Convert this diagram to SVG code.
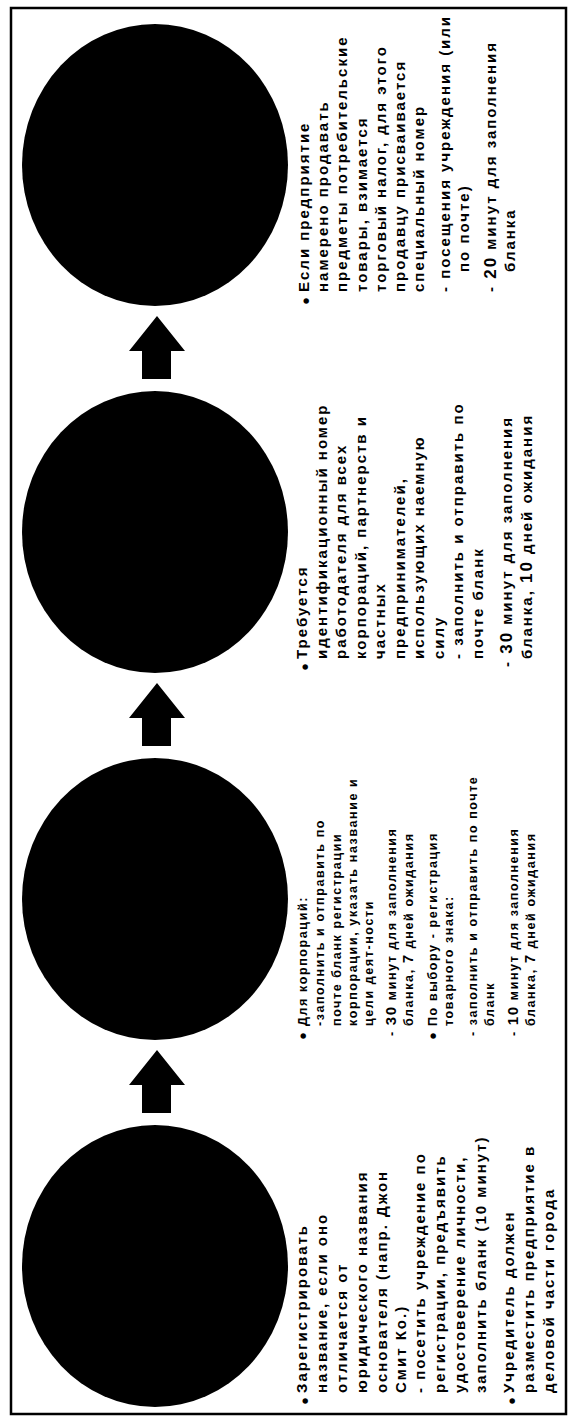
<svg xmlns="http://www.w3.org/2000/svg" width="574" height="1422" viewBox="0 0 574 1422">
<style>
.t{font-family:"Liberation Sans",Arial,sans-serif;font-weight:bold;font-size:15px;letter-spacing:2px;fill:#000}
.s{font-size:12.5px;letter-spacing:1.6px}
.n{font-size:17px}
.ns{font-size:15px}
.b{font-family:"Liberation Sans",Arial,sans-serif;font-size:20px;text-anchor:middle;fill:#000}
.c{fill:#000}
.a{fill:#000}
</style>
<rect x="0" y="0" width="574" height="1422" fill="#fff"/>
<rect x="11" y="8" width="555" height="1406" fill="none" stroke="#000" stroke-width="2.5"/>

<g id="connectors">
<polygon class="a" points="157,1050 185,1085 171,1085 171,1113 142,1113 142,1085 129,1085"/>
<polygon class="a" points="157,683 185,718 171,718 171,746 142,746 142,718 129,718"/>
<polygon class="a" points="157,316 185,351 171,351 171,379 142,379 142,351 129,351"/>
</g>

<g id="node1">
<ellipse class="c" cx="155" cy="1266" rx="133" ry="141"/>
<g transform="translate(0,1393) rotate(-90)">
<text class="b" x="-8" y="312">•</text>
<text class="b" x="-8" y="519">•</text>
<text class="t" x="0" y="307">Зарегистрировать</text>
<text class="t" x="0" y="327">название, если оно</text>
<text class="t" x="0" y="347">отличается от</text>
<text class="t" x="0" y="367">юридического названия</text>
<text class="t" x="0" y="387">основателя (напр. Джон</text>
<text class="t" x="0" y="406">Смит Ко.)</text>
<text class="t" x="0" y="425">- посетить учреждение по</text>
<text class="t" x="0" y="445">регистрации, предъявить</text>
<text class="t" x="0" y="464.5">удостоверение личности,</text>
<text class="t" x="0" y="485.5">заполнить бланк (10 минут)</text>
<text class="t" x="0" y="514">Учредитель должен</text>
<text class="t" x="0" y="534">разместить предприятие в</text>
<text class="t" x="0" y="553.5">деловой части города</text>
</g>
</g>

<g id="node2">
<ellipse class="c" cx="155" cy="899" rx="133" ry="141"/>
<g transform="translate(0,1026) rotate(-90)">
<text class="b" x="-10" y="310">•</text>
<text class="b" x="-10" y="440">•</text>
<text class="t s" x="0" y="306.5">Для корпораций:</text>
<text class="t s" x="0" y="323.5">-заполнить и отправить по</text>
<text class="t s" x="0" y="340.5">почте бланк регистрации</text>
<text class="t s" x="0" y="356.5">корпорации, указать название и</text>
<text class="t s" x="0" y="372.5">цели деят-ности</text>
<text class="t s" x="-10" y="395.5">- <tspan class="ns">30</tspan> минут для заполнения</text>
<text class="t s" x="0" y="412.5">бланка, <tspan class="ns">7</tspan> дней ожидания</text>
<text class="t s" x="0" y="436.5">По выбору - регистрация</text>
<text class="t s" x="0" y="452.5">товарного знака:</text>
<text class="t s" x="-10" y="476.5">- заполнить и отправить по почте</text>
<text class="t s" x="0" y="493.5">бланк</text>
<text class="t s" x="-10" y="517.5">- <tspan class="ns">10</tspan> минут для заполнения</text>
<text class="t s" x="0" y="534.5">бланка, <tspan class="ns">7</tspan> дней ожидания</text>
</g>
</g>

<g id="node3">
<ellipse class="c" cx="155" cy="532" rx="133" ry="141"/>
<g transform="translate(0,659) rotate(-90)">
<text class="b" x="-8" y="312">•</text>
<text class="t" x="0" y="307">Требуется</text>
<text class="t" x="0" y="326.5">идентификационный номер</text>
<text class="t" x="0" y="346">работодателя для всех</text>
<text class="t" x="0" y="365.5">корпораций, партнерств и</text>
<text class="t" x="0" y="385">частных</text>
<text class="t" x="0" y="404.5">предпринимателей,</text>
<text class="t" x="0" y="424">использующих наемную</text>
<text class="t" x="0" y="443.5">силу</text>
<text class="t" x="0" y="463">- заполнить и отправить по</text>
<text class="t" x="0" y="482.5">почте бланк</text>
<text class="t" x="-8" y="512">- <tspan class="n">30</tspan> минут для заполнения</text>
<text class="t" x="0" y="531.5">бланка, <tspan class="n">10</tspan> дней ожидания</text>
</g>
</g>

<g id="node4">
<ellipse class="c" cx="155" cy="165" rx="133" ry="141"/>
<g transform="translate(0,292) rotate(-90)">
<text class="b" x="-9" y="313">•</text>
<text class="t" x="0" y="309">Если предприятие</text>
<text class="t" x="0" y="328">намерено продавать</text>
<text class="t" x="0" y="347">предметы потребительские</text>
<text class="t" x="0" y="366.5">товары, взимается</text>
<text class="t" x="0" y="386">торговый налог, для этого</text>
<text class="t" x="0" y="405">продавцу присваивается</text>
<text class="t" x="0" y="424">специальный номер</text>
<text class="t" x="0" y="450">- посещения учреждения (или</text>
<text class="t" x="20" y="469">по почте)</text>
<text class="t" x="0" y="496">- <tspan class="n">20</tspan> минут для заполнения</text>
<text class="t" x="20" y="515">бланка</text>
</g>
</g>
</svg>
